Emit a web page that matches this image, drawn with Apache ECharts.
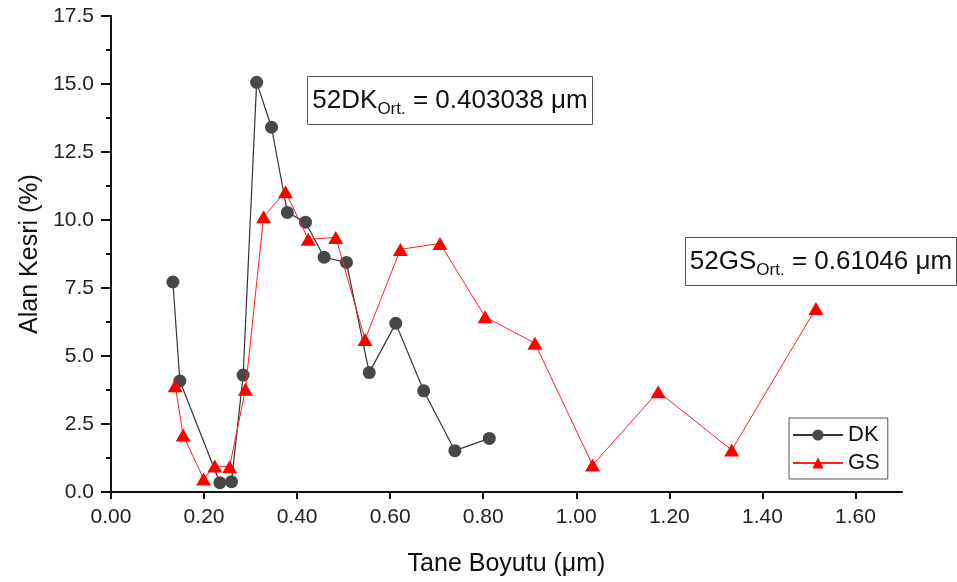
<!DOCTYPE html>
<html>
<head>
<meta charset="utf-8">
<script src="https://cdn.jsdelivr.net/npm/echarts@6/dist/echarts.min.js"></script>
<style>
  html, body { margin: 0; padding: 0; background: #fff; }
  #chart { width: 957px; height: 582px; }
</style>
</head>
<body>
<div id="chart"></div>
<script>
// Grain size (µm) and area fraction (%) for the two samples
const dkSize = [0.133, 0.148, 0.234, 0.259, 0.284, 0.313, 0.345, 0.379, 0.418, 0.458, 0.506, 0.555, 0.612, 0.672, 0.739, 0.813];
const dkArea = [7.72, 4.08, 0.34, 0.38, 4.30, 15.06, 13.41, 10.28, 9.92, 8.63, 8.44, 4.39, 6.20, 3.72, 1.52, 1.97];

const gsSize = [0.138, 0.155, 0.199, 0.223, 0.255, 0.289, 0.328, 0.375, 0.424, 0.483, 0.546, 0.622, 0.707, 0.804, 0.911, 1.035, 1.176, 1.334, 1.515];
const gsArea = [3.91, 2.10, 0.48, 0.96, 0.93, 3.78, 10.12, 11.04, 9.29, 9.36, 5.61, 8.92, 9.14, 6.44, 5.47, 0.99, 3.69, 1.54, 6.75];

// Axis ticks
const xTickValues = [0, 0.2, 0.4, 0.6, 0.8, 1.0, 1.2, 1.4, 1.6];
const yTickValues = [0, 2.5, 5, 7.5, 10, 12.5, 15, 17.5];

// Mean grain size notes
const dkMean = '0.403038';
const gsMean = '0.61046';

const FONT = "'Liberation Sans', Arial, Helvetica, sans-serif";

function meanNote(left, top, w, h, name, value) {
  return {
    type: 'group', left: left, top: top,
    children: [
      { type: 'rect', shape: { x: 0, y: 0, width: w, height: h },
        style: { fill: '#fff', stroke: '#555', lineWidth: 1 } },
      { type: 'text', x: w / 2, y: h / 2,
        style: {
          text: '{a|' + name + '}{s|Ort.}{a| = ' + value + ' μm}',
          align: 'center', verticalAlign: 'middle',
          rich: {
            a: { fontSize: 26, fontFamily: FONT, fill: '#111', lineHeight: 34 },
            s: { fontSize: 17, fontFamily: FONT, fill: '#111', lineHeight: 16, verticalAlign: 'bottom' }
          }
        } }
    ]
  };
}

const chart = echarts.init(document.getElementById('chart'));
chart.setOption({
  animation: false,
  backgroundColor: '#fff',
  grid: { left: 111, right: 55, top: 16, bottom: 90 },
  xAxis: {
    type: 'value', min: 0, max: 1.7,
    name: 'Tane Boyutu (μm)', nameLocation: 'middle', nameGap: 60,
    nameTextStyle: { fontSize: 25, fontFamily: FONT, color: '#111' },
    axisLine: { show: true, lineStyle: { color: '#111', width: 2 } },
    axisTick: { show: true, length: 7, lineStyle: { color: '#111', width: 2 }, customValues: xTickValues },
    axisLabel: { margin: 15, fontSize: 21, fontFamily: FONT, color: '#222', customValues: xTickValues,
                 formatter: v => v.toFixed(2) },
    splitLine: { show: false }
  },
  yAxis: {
    type: 'value', min: 0, max: 17.5, interval: 2.5,
    name: 'Alan Kesri (%)', nameLocation: 'middle', nameGap: 68,
    nameTextStyle: { fontSize: 25, fontFamily: FONT, color: '#111' },
    axisLine: { show: true, lineStyle: { color: '#111', width: 2 } },
    axisTick: { show: true, length: 10, lineStyle: { color: '#111', width: 2 }, customValues: yTickValues },
    minorTick: { show: true, splitNumber: 2, length: 5, lineStyle: { color: '#111', width: 2 } },
    axisLabel: { margin: 17, fontSize: 21, fontFamily: FONT, color: '#222', customValues: yTickValues,
                 formatter: v => v.toFixed(1) },
    splitLine: { show: false }
  },
  legend: {
    orient: 'vertical', left: 789, top: 418,
    padding: [5, 8, 4, 3], itemGap: 4, itemWidth: 50, itemHeight: 14,
    borderColor: '#555', borderWidth: 1, backgroundColor: '#fff',
    textStyle: { fontSize: 22, fontFamily: FONT, color: '#111', lineHeight: 24 },
    data: ['DK', 'GS']
  },
  series: [
    {
      name: 'DK', type: 'line', showAllSymbol: true,
      data: dkSize.map((x, i) => [x, dkArea[i]]),
      symbol: 'circle', symbolSize: 13,
      itemStyle: { color: '#474747' },
      lineStyle: { color: '#333', width: 1.2 },
      z: 2
    },
    {
      name: 'GS', type: 'line', showAllSymbol: true,
      data: gsSize.map((x, i) => [x, gsArea[i]]),
      symbol: 'triangle', symbolSize: [15, 13],
      itemStyle: { color: '#ff0000' },
      lineStyle: { color: '#f22', width: 1 },
      z: 3
    }
  ],
  graphic: [
    meanNote(307, 76, 285, 48, '52DK', dkMean),
    meanNote(685, 237, 271, 48, '52GS', gsMean)
  ]
});
</script>
</body>
</html>
